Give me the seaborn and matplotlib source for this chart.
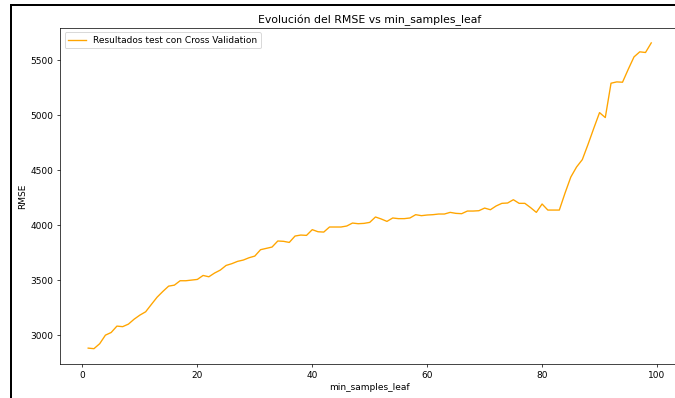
import matplotlib
matplotlib.use("Agg")
import matplotlib.pyplot as plt
from matplotlib.lines import Line2D
import pandas as pd
import seaborn as sns

# min_samples_leaf values tested and the cross-validated RMSE for each
min_samples_leaf = list(range(1, 100))
rmse = [
    2885, 2880, 2925, 3003, 3027, 3085, 3080, 3103, 3148, 3185,
    3215, 3282, 3348, 3400, 3448, 3457, 3497, 3497, 3503, 3509,
    3545, 3533, 3567, 3594, 3636, 3652, 3673, 3685, 3706, 3721,
    3779, 3791, 3803, 3858, 3855, 3845, 3903, 3912, 3909, 3961,
    3942, 3939, 3985, 3985, 3985, 3994, 4021, 4015, 4018, 4027,
    4076, 4058, 4036, 4067, 4061, 4061, 4067, 4097, 4088, 4094,
    4097, 4103, 4103, 4118, 4109, 4106, 4130, 4130, 4133, 4157,
    4142, 4176, 4200, 4203, 4233, 4200, 4200, 4161, 4118, 4194,
    4139, 4139, 4139, 4294, 4439, 4530, 4597, 4736, 4882, 5024,
    4979, 5291, 5303, 5300, 5418, 5530, 5576, 5570, 5657,
]

title = "Evolución del RMSE vs min_samples_leaf"
x_label = "min_samples_leaf"
y_label = "RMSE"
series_label = "Resultados test con Cross Validation"

df = pd.DataFrame({x_label: min_samples_leaf, y_label: rmse})

DPI = 65
W, H = 675, 398
# small pad so the pixel size does not truncate below W x H
fig = plt.figure(figsize=((W + 0.4) / DPI, (H + 0.4) / DPI), dpi=DPI)
ax = fig.add_axes([60 / W, 1 - 364 / H, 619 / W, 336 / H])

sns.lineplot(data=df, x=x_label, y=y_label, color="orange",
             label=series_label, ax=ax)

ax.set_title(title)
ax.legend(loc="upper left")
# the axes run past the right edge of the canvas
ax.spines["right"].set_visible(False)

# notebook cell frame edges
fig.add_artist(Line2D([10.5 / W, 1.0], [1 - 5.5 / H, 1 - 5.5 / H],
                      color="black", linewidth=2.2, transform=fig.transFigure))
fig.add_artist(Line2D([10.5 / W, 10.5 / W], [0.0, 1 - 5.5 / H],
                      color="black", linewidth=2.2, transform=fig.transFigure))

fig.savefig("out.png", dpi=DPI)
